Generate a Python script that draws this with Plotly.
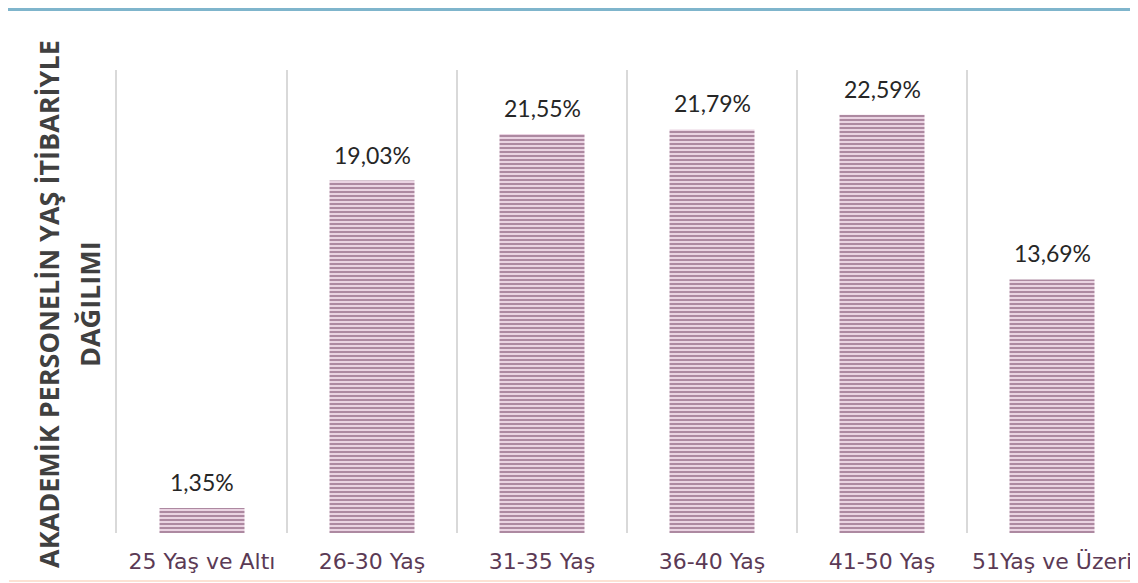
import plotly.graph_objects as go

categories = ["25 Yaş ve Altı", "26-30 Yaş", "31-35 Yaş", "36-40 Yaş", "41-50 Yaş", "51Yaş ve Üzeri"]
values = [1.35, 19.03, 21.55, 21.79, 22.59, 13.69]
labels = ["1,35%", "19,03%", "21,55%", "21,79%", "22,59%", "13,69%"]
y_title_line1 = "AKADEMİK PERSONELİN YAŞ İTİBARİYLE"
y_title_line2 = "DAĞILIMI"

# page body adds an 8px offset, so the figure is drawn 8px smaller and coordinates shifted
OFF = 8
W, H = 1138 - OFF, 583 - OFF
L, R, T, B = 117 - OFF, 1, 70 - OFF, 50
pw = W - L - R
ph = H - T - B

def px_x(x):
    return (x - OFF - L) / pw

def px_y(y):
    return (H - B - (y - OFF)) / ph

fig = go.Figure()
fig.add_trace(go.Bar(
    x=categories, y=values,
    cliponaxis=False, width=0.5,
    marker=dict(
        color="#E8D0DF",
        line=dict(width=0),
        pattern=dict(shape="-", fgcolor="#70405F", bgcolor="#EAD3E2", size=4, solidity=0.5),
    ),
    hoverinfo="skip",
))

annotations = []
for c, v, t in zip(categories, values, labels):
    annotations.append(dict(
        x=c, y=v, xref="x", yref="y", text=t, showarrow=False,
        xanchor="center", yanchor="bottom", yshift=10,
        font=dict(family="Lato, sans-serif", size=23, color="#262626"),
    ))

annotations.append(dict(text=y_title_line1, xref="paper", yref="paper", x=px_x(48), y=px_y(304),
                        xanchor="center", yanchor="middle", textangle=-90, showarrow=False,
                        font=dict(family="Open Sans, sans-serif", size=27, color="#404040", weight="bold")))
annotations.append(dict(text=y_title_line2, xref="paper", yref="paper", x=px_x(89), y=px_y(304),
                        xanchor="center", yanchor="middle", textangle=-90, showarrow=False,
                        font=dict(family="Open Sans, sans-serif", size=27, color="#404040", weight="bold")))

fig.update_layout(
    width=W, height=H,
    margin=dict(l=L, r=R, t=T, b=B, autoexpand=False),
    plot_bgcolor="white", paper_bgcolor="white",
    showlegend=False,
    xaxis=dict(
        type="category", tickson="boundaries", showgrid=True, gridcolor="#D9D9D9", gridwidth=2,
        ticks="", showline=False, zeroline=False,
        tickfont=dict(family="DejaVu Sans, sans-serif", size=22, color="#5B3A55"),
        ticklabelstandoff=13,
    ),
    yaxis=dict(range=[0, 25], showgrid=False, showticklabels=False, zeroline=False,
               showline=True, linecolor="#D9D9D9", linewidth=2, ticks=""),
    shapes=[
        dict(type="rect", xref="paper", yref="paper",
             x0=px_x(5), x1=px_x(1133), y0=px_y(11), y1=px_y(6),
             fillcolor="#7FB5CC", line=dict(width=0), layer="above"),
        dict(type="line", xref="paper", yref="paper",
             x0=px_x(9), x1=px_x(1132), y0=px_y(581), y1=px_y(581),
             line=dict(color="#FBD9C6", width=1.5), layer="above"),
    ],
    annotations=annotations,
)

fig.write_html("out.html")
